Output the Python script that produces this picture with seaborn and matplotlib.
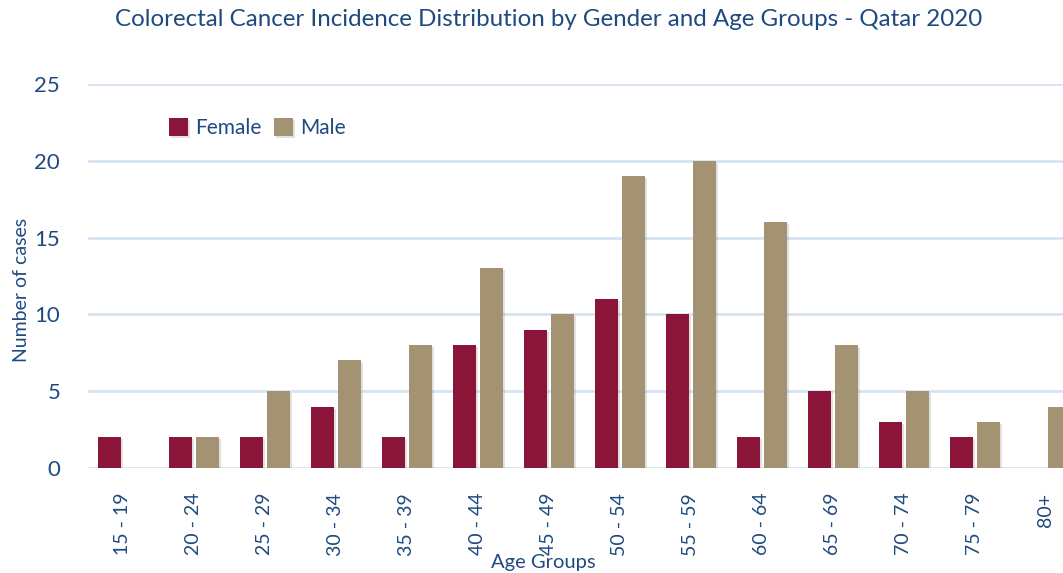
import pandas as pd
import matplotlib.pyplot as plt
import matplotlib.patheffects as pe
import seaborn as sns

# 数据：卡塔尔 2020 年结直肠癌按性别与年龄组分布
age_groups = ['15 - 19', '20 - 24', '25 - 29', '30 - 34', '35 - 39', '40 - 44', '45 - 49',
              '50 - 54', '55 - 59', '60 - 64', '65 - 69', '70 - 74', '75 - 79', '80+']
female_cases = [2, 2, 2, 4, 2, 8, 9, 11, 10, 2, 5, 3, 2, 0]
male_cases = [0, 2, 5, 7, 8, 13, 10, 19, 20, 16, 8, 5, 3, 4]

text_color = '#1F4A80'
palette = {'Female': '#8B1538', 'Male': '#A39372'}

df = pd.DataFrame({
    'age': age_groups * 2,
    'cases': female_cases + male_cases,
    'gender': ['Female'] * len(age_groups) + ['Male'] * len(age_groups),
})

sns.set_theme(style='white')
plt.rcParams['font.family'] = ['Lato', 'DejaVu Sans']

fig = plt.figure(figsize=(10.63, 5.73), dpi=100)
ax = fig.add_axes([0.0828, 0.1833, 0.9172, 0.6701])

sns.barplot(data=df, x='age', y='cases', hue='gender', palette=palette, saturation=1,
            width=0.76, gap=0.15, linewidth=0, edgecolor='none', ax=ax, zorder=3)

for bar in ax.patches:
    bar.set_path_effects([pe.SimplePatchShadow(offset=(1.5, -1.5), shadow_rgbFace='#888888', alpha=0.25),
                          pe.Normal()])

ax.set_xlim(-0.49, 13.24)
ax.set_ylim(0, 25)
ax.set_yticks([0, 5, 10, 15, 20, 25])
ax.grid(axis='y', color='#D6E4F2', linewidth=2, zorder=0)
ax.grid(axis='x', visible=False)
sns.despine(ax=ax, left=True, bottom=True, right=True, top=True)

ax.tick_params(axis='y', labelsize=16, labelcolor=text_color, length=0, pad=20)
ax.tick_params(axis='x', labelsize=14, labelcolor=text_color, length=0, pad=18, rotation=90)

ax.set_ylabel('Number of cases', fontsize=14, color=text_color)
ax.yaxis.set_label_coords(-0.06, 0.463)
ax.set_xlabel('Age Groups', fontsize=14.5, color=text_color)
ax.xaxis.set_label_coords(0.467, -0.225)

fig.suptitle('Colorectal Cancer Incidence Distribution by Gender and Age Groups - Qatar 2020',
             fontsize=17.4, color=text_color, x=0.516, y=0.985)

ax.legend(loc='upper left', bbox_to_anchor=(0.064, 0.96), frameon=False, ncol=2,
          handlelength=0.9, handleheight=0.9, handletextpad=0.35, columnspacing=0.6,
          fontsize=15, labelcolor=text_color)

plt.savefig('out.png', dpi=100)
plt.close()
